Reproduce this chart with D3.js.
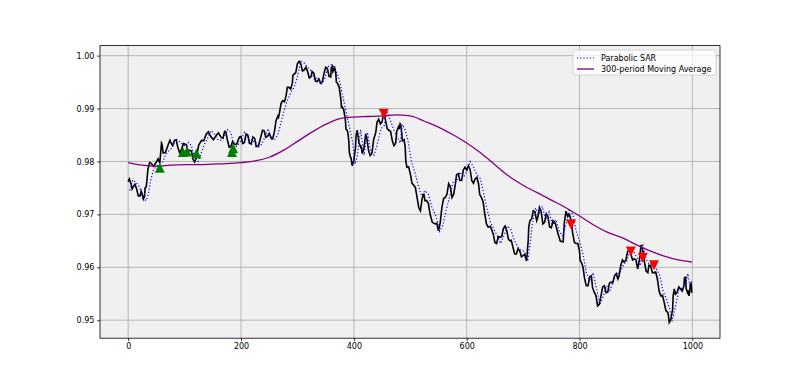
<!DOCTYPE html>
<html><head><meta charset="utf-8">
<script src="https://cdn.jsdelivr.net/npm/d3@7"></script>
<style>body{margin:0;background:#fff;font-family:"DejaVu Sans",sans-serif}</style>
</head><body><svg id="c" width="800" height="380"></svg>
<script>
// [index, close]
const price = [[0,0.9762],[2,0.9767],[5,0.9758],[7,0.9748],[9,0.9752],[12,0.9757],[15,0.9748],[18,0.9735],[21,0.9735],[23,0.9744],[25,0.9738],[27,0.9729],[29,0.9734],[30,0.9750],[32,0.9752],[33,0.9762],[35,0.9785],[38,0.9798],[41,0.9796],[45,0.9791],[50,0.9799],[53,0.9805],[56,0.9797],[57,0.9809],[59,0.9835],[60,0.9833],[62,0.9816],[66,0.9817],[71,0.9832],[74,0.9840],[77,0.9833],[79,0.9830],[82,0.9840],[85,0.9841],[88,0.9827],[91,0.9817],[94,0.9821],[98,0.9834],[103,0.9832],[106,0.9820],[109,0.9821],[112,0.9820],[115,0.9804],[118,0.9799],[121,0.9808],[125,0.9831],[130,0.9840],[134,0.9839],[138,0.9851],[142,0.9856],[147,0.9846],[151,0.9841],[156,0.9849],[160,0.9854],[165,0.9845],[168,0.9844],[171,0.9857],[173,0.9856],[176,0.9840],[179,0.9827],[182,0.9828],[185,0.9838],[188,0.9833],[192,0.9832],[197,0.9846],[200,0.9847],[203,0.9834],[206,0.9836],[209,0.9852],[212,0.9850],[215,0.9834],[218,0.9833],[221,0.9846],[224,0.9844],[227,0.9828],[231,0.9830],[235,0.9846],[238,0.9859],[241,0.9858],[244,0.9846],[247,0.9848],[250,0.9853],[253,0.9845],[256,0.9843],[259,0.9855],[262,0.9877],[265,0.9885],[266,0.9881],[268,0.9891],[271,0.9910],[274,0.9915],[277,0.9913],[280,0.9925],[282,0.9940],[285,0.9940],[288,0.9937],[291,0.9948],[292,0.9963],[294,0.9965],[297,0.9968],[300,0.9985],[303,0.9989],[306,0.9984],[309,0.9971],[312,0.9973],[315,0.9978],[318,0.9970],[321,0.9958],[324,0.9960],[326,0.9970],[329,0.9967],[332,0.9952],[335,0.9951],[338,0.9956],[341,0.9948],[344,0.9950],[347,0.9966],[350,0.9978],[353,0.9976],[356,0.9961],[359,0.9960],[360,0.9977],[362,0.9980],[363,0.9970],[365,0.9975],[366,0.9977],[368,0.9966],[369,0.9950],[371,0.9948],[374,0.9940],[377,0.9917],[378,0.9903],[379,0.9904],[382,0.9898],[385,0.9878],[386,0.9861],[388,0.9859],[389,0.9856],[391,0.9840],[392,0.9817],[394,0.9808],[395,0.9807],[397,0.9792],[400,0.9802],[403,0.9827],[404,0.9850],[406,0.9859],[409,0.9836],[412,0.9827],[413,0.9828],[415,0.9815],[418,0.9826],[421,0.9852],[423,0.9844],[426,0.9821],[429,0.9811],[432,0.9815],[435,0.9841],[438,0.9852],[439,0.9856],[441,0.9874],[444,0.9880],[447,0.9871],[450,0.9875],[453,0.9893],[454,0.9890],[456,0.9878],[459,0.9862],[462,0.9859],[465,0.9857],[468,0.9840],[471,0.9830],[474,0.9834],[476,0.9857],[479,0.9865],[480,0.9861],[482,0.9871],[483,0.9869],[485,0.9852],[486,0.9839],[488,0.9840],[489,0.9841],[491,0.9827],[492,0.9801],[494,0.9789],[497,0.9790],[500,0.9777],[503,0.9759],[506,0.9755],[509,0.9751],[512,0.9732],[515,0.9713],[518,0.9707],[521,0.9730],[524,0.9739],[526,0.9726],[529,0.9726],[532,0.9721],[535,0.9701],[539,0.9685],[544,0.9682],[547,0.9683],[550,0.9669],[553,0.9684],[556,0.9713],[559,0.9730],[562,0.9732],[565,0.9738],[568,0.9758],[571,0.9752],[574,0.9732],[577,0.9738],[580,0.9758],[582,0.9775],[585,0.9777],[588,0.9764],[591,0.9764],[594,0.9784],[597,0.9789],[600,0.9784],[603,0.9792],[606,0.9785],[609,0.9764],[612,0.9759],[615,0.9767],[618,0.9770],[621,0.9758],[623,0.9738],[626,0.9732],[629,0.9724],[632,0.9701],[635,0.9682],[638,0.9676],[642,0.9677],[647,0.9663],[650,0.9647],[653,0.9645],[656,0.9658],[659,0.9657],[662,0.9658],[665,0.9673],[668,0.9678],[671,0.9669],[674,0.9653],[677,0.9650],[679,0.9651],[682,0.9638],[685,0.9625],[688,0.9625],[691,0.9635],[694,0.9631],[697,0.9620],[700,0.9622],[703,0.9624],[706,0.9612],[707,0.9624],[709,0.9650],[710,0.9676],[712,0.9688],[715,0.9691],[718,0.9707],[721,0.9705],[724,0.9688],[726,0.9694],[729,0.9713],[732,0.9705],[735,0.9682],[738,0.9685],[741,0.9701],[744,0.9696],[747,0.9676],[750,0.9675],[753,0.9688],[757,0.9683],[762,0.9663],[766,0.9649],[771,0.9648],[773,0.9684],[776,0.9706],[779,0.9696],[782,0.9700],[785,0.9689],[788,0.9663],[791,0.9647],[794,0.9645],[797,0.9645],[800,0.9630],[801,0.9613],[803,0.9610],[806,0.9601],[809,0.9578],[812,0.9565],[815,0.9565],[818,0.9582],[821,0.9584],[823,0.9562],[826,0.9553],[829,0.9547],[832,0.9527],[835,0.9530],[838,0.9546],[841,0.9563],[844,0.9565],[847,0.9552],[850,0.9553],[853,0.9570],[856,0.9572],[859,0.9571],[862,0.9584],[865,0.9588],[868,0.9578],[870,0.9584],[873,0.9603],[876,0.9614],[879,0.9610],[882,0.9613],[885,0.9629],[888,0.9634],[891,0.9625],[894,0.9614],[897,0.9616],[900,0.9614],[903,0.9597],[906,0.9613],[909,0.9642],[912,0.9633],[915,0.9610],[918,0.9593],[921,0.9590],[923,0.9604],[926,0.9603],[929,0.9590],[932,0.9590],[935,0.9591],[938,0.9578],[941,0.9555],[944,0.9546],[947,0.9547],[950,0.9534],[953,0.9518],[956,0.9515],[957,0.9513],[959,0.9496],[962,0.9502],[965,0.9521],[966,0.9547],[968,0.9559],[970,0.9549],[973,0.9553],[976,0.9563],[979,0.9559],[982,0.9555],[985,0.9565],[986,0.9580],[988,0.9581],[989,0.9560],[991,0.9553],[992,0.9557],[994,0.9546],[995,0.9552],[997,0.9571],[998,0.9567],[999,0.9552]];
const sarIdx = [3,8,14,20,26,32,36,40,45,52,58,62,66,72,78,84,90,96,102,107,112,118,124,128,134,140,146,152,158,164,170,176,182,188,194,200,206,212,218,224,230,236,242,248,254,260,265,270,276,282,288,294,300,306,312,318,324,330,336,342,348,354,360,364,368,374,380,386,392,398,402,406,412,418,424,430,436,442,448,454,458,464,470,476,482,486,490,496,502,508,514,520,526,532,538,546,552,558,564,570,576,582,588,594,600,606,612,618,624,630,636,642,648,654,660,666,672,678,684,690,696,702,708,712,716,722,728,734,740,746,752,758,764,770,776,782,788,794,800,806,812,818,824,830,836,842,848,854,860,866,872,878,884,890,896,902,908,912,918,924,930,936,942,948,954,960,964,970,976,982,988,992,996,999];
const sarVal = [0.9745,0.9765,0.9760,0.9752,0.9730,0.9726,0.9740,0.9765,0.9785,0.9792,0.9796,0.9800,0.9812,0.9820,0.9826,0.9843,0.9838,0.9833,0.9828,0.9836,0.9830,0.9806,0.9800,0.9812,0.9830,0.9842,0.9858,0.9854,0.9842,0.9840,0.9846,0.9860,0.9855,0.9826,0.9830,0.9840,0.9855,0.9848,0.9831,0.9842,0.9826,0.9832,0.9845,0.9862,0.9842,0.9842,0.9850,0.9870,0.9895,0.9915,0.9930,0.9940,0.9960,0.9989,0.9986,0.9978,0.9972,0.9955,0.9958,0.9945,0.9955,0.9979,0.9983,0.9980,0.9972,0.9955,0.9925,0.9895,0.9865,0.9835,0.9795,0.9810,0.9860,0.9812,0.9855,0.9818,0.9812,0.9835,0.9862,0.9868,0.9895,0.9880,0.9862,0.9848,0.9835,0.9870,0.9862,0.9840,0.9800,0.9780,0.9755,0.9735,0.9745,0.9738,0.9715,0.9695,0.9668,0.9680,0.9710,0.9735,0.9762,0.9762,0.9780,0.9770,0.9780,0.9800,0.9790,0.9775,0.9768,0.9740,0.9710,0.9685,0.9672,0.9660,0.9645,0.9660,0.9678,0.9672,0.9652,0.9640,0.9632,0.9630,0.9612,0.9640,0.9680,0.9712,0.9700,0.9715,0.9690,0.9705,0.9680,0.9690,0.9668,0.9660,0.9680,0.9710,0.9700,0.9668,0.9650,0.9625,0.9590,0.9575,0.9590,0.9560,0.9530,0.9545,0.9565,0.9555,0.9575,0.9588,0.9590,0.9605,0.9612,0.9632,0.9630,0.9618,0.9603,0.9645,0.9615,0.9605,0.9608,0.9598,0.9585,0.9555,0.9540,0.9520,0.9498,0.9525,0.9558,0.9560,0.9568,0.9588,0.9560,0.9575];
const maIdx = [0,25,50,75,100,125,150,175,200,225,250,275,300,325,350,375,400,425,450,475,500,525,550,575,600,625,650,675,700,725,750,775,800,825,850,875,900,925,950,975,999];
const maVal = [0.9798,0.9793,0.9791,0.9793,0.9794,0.9794,0.9795,0.9796,0.9798,0.9801,0.9808,0.9821,0.9838,0.9855,0.9870,0.9881,0.9884,0.9885,0.9886,0.9888,0.9886,0.9876,0.9865,0.9851,0.9835,0.9816,0.9794,0.9772,0.9755,0.9741,0.9727,0.9713,0.9697,0.9680,0.9666,0.9656,0.9643,0.9631,0.9621,0.9614,0.9610];
const buyIdx = [56,97,104,121,184,186];
const buyVal = [0.9788,0.9818,0.9819,0.9815,0.9818,0.9825];
const sellIdx = [453,785,891,912,932];
const sellVal = [0.9890,0.9681,0.9630,0.9618,0.9604];
const xTicks = [0,200,400,600,800,1000];
const yTicks = [0.95,0.96,0.97,0.98,0.99,1.00];
const legendLabels = ["Parabolic SAR","300-period Moving Average"];

const L=100,R=720,T=45.6,B=338.2;
const svg=d3.select("#c");
const x=d3.scaleLinear().domain([-49.95,1048.95]).range([L,R]);
const y=d3.scaleLinear().domain([0.9466,1.0019]).range([B,T]);
svg.append("rect").attr("x",L).attr("y",T).attr("width",R-L).attr("height",B-T).attr("fill","#f0f0f0");
svg.append("clipPath").attr("id","cl").append("rect").attr("x",L).attr("y",T).attr("width",R-L).attr("height",B-T);
svg.append("g").selectAll("line").data(xTicks).join("line")
 .attr("x1",d=>x(d)).attr("x2",d=>x(d)).attr("y1",T).attr("y2",B).attr("stroke","#b0b0b0").attr("stroke-width",0.9);
svg.append("g").selectAll("line").data(yTicks).join("line")
 .attr("y1",d=>y(d)).attr("y2",d=>y(d)).attr("x1",L).attr("x2",R).attr("stroke","#b0b0b0").attr("stroke-width",0.9);
const g=svg.append("g").attr("clip-path","url(#cl)");
const line=d3.line().x(d=>x(d[0])).y(d=>y(d[1]));
g.append("path").datum(price).attr("d",line).attr("fill","none").attr("stroke","#000").attr("stroke-width",1.6);
g.append("path").datum(sarIdx.map((d,i)=>[d,sarVal[i]])).attr("d",line).attr("fill","none").attr("stroke","#0000ff").attr("stroke-width",1.2).attr("stroke-dasharray","1.2,2");
g.append("path").datum(maIdx.map((d,i)=>[d,maVal[i]])).attr("d",d3.line().x(d=>x(d[0])).y(d=>y(d[1])).curve(d3.curveMonotoneX)).attr("fill","none").attr("stroke","#800080").attr("stroke-width",1.3);
const s=5;
g.append("g").selectAll("path").data(buyIdx.map((d,i)=>[d,buyVal[i]])).join("path")
 .attr("d",d=>{const cx=x(d[0]),cy=y(d[1]);return `M${cx},${cy-s}L${cx+s},${cy+s}L${cx-s},${cy+s}Z`;}).attr("fill","#008000");
g.append("g").selectAll("path").data(sellIdx.map((d,i)=>[d,sellVal[i]])).join("path")
 .attr("d",d=>{const cx=x(d[0]),cy=y(d[1]);return `M${cx},${cy+s}L${cx+s},${cy-s}L${cx-s},${cy-s}Z`;}).attr("fill","#ff0000");
svg.append("rect").attr("x",L).attr("y",T).attr("width",R-L).attr("height",B-T).attr("fill","none").attr("stroke","#000").attr("stroke-width",0.8);
const xa=svg.append("g").attr("transform",`translate(0,${B})`).call(d3.axisBottom(x).tickValues(xTicks).tickFormat(d3.format("d")).tickSize(2.8).tickPadding(2.8));
const ya=svg.append("g").attr("transform",`translate(${L},0)`).call(d3.axisLeft(y).tickValues(yTicks).tickFormat(d3.format(".2f")).tickSize(2.8).tickPadding(2.8));
[xa,ya].forEach(a=>{a.select(".domain").remove();a.selectAll("text").attr("font-family","DejaVu Sans").attr("font-size",8).attr("fill","#000");a.selectAll("line").attr("stroke","#000").attr("stroke-width",0.8);});
const lg=svg.append("g");
lg.append("rect").attr("x",573).attr("y",50).attr("width",143).attr("height",25).attr("rx",2).attr("fill","#fff").attr("fill-opacity",0.8).attr("stroke","#ccc").attr("stroke-width",0.8);
lg.append("line").attr("x1",577).attr("x2",594).attr("y1",58).attr("y2",58).attr("stroke","#0000ff").attr("stroke-width",1.2).attr("stroke-dasharray","1.2,2");
lg.append("line").attr("x1",577).attr("x2",594).attr("y1",69).attr("y2",69).attr("stroke","#800080").attr("stroke-width",1.3);
lg.selectAll("text").data(legendLabels).join("text").attr("x",601).attr("y",(d,i)=>58+i*11).attr("dy","0.35em")
 .attr("font-family","DejaVu Sans").attr("font-size",8).attr("fill","#000").text(d=>d);
</script></body></html>
